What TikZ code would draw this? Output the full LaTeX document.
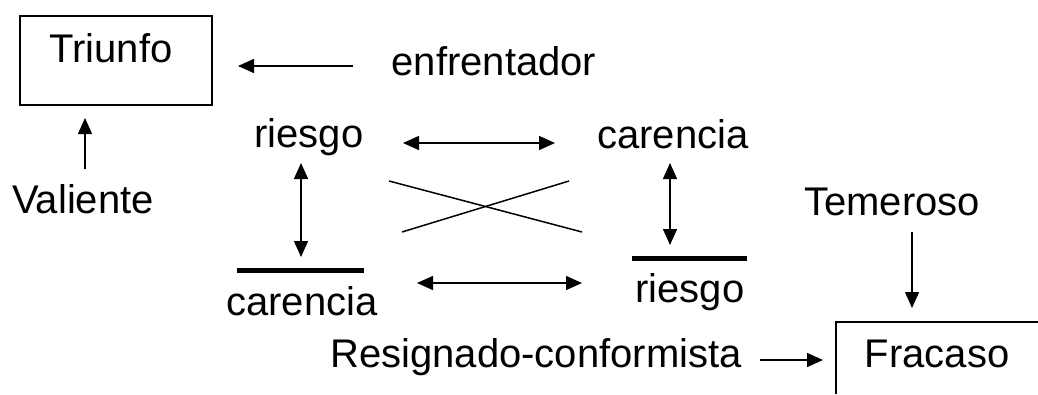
\documentclass[tikz,border=0pt]{standalone}
\usepackage{fontspec}
\setmainfont{Liberation Sans}
\usetikzlibrary{arrows.meta}
\begin{document}
\begin{tikzpicture}[x=1pt,y=-1pt,
  lbl/.style={anchor=base,inner sep=0pt,font=\fontsize{40}{48}\selectfont},
  conn/.style={line width=1.5pt,-{Triangle[length=16pt,width=14pt]}},
  dconn/.style={line width=1.5pt,{Triangle[length=16pt,width=14pt]}-{Triangle[length=16pt,width=14pt]}},
  thin/.style={line width=1.5pt},
  bar/.style={line width=5pt}]
\useasboundingbox (0,0) rectangle (1038,394);
% Triunfo box
\node[draw,line width=1.5pt,minimum width=192pt,minimum height=89pt,inner sep=0pt] (tbox) at (116,60.5) {};
\node[lbl] (triunfo) at (111,62) {Triunfo};
% enfrentador
\node[lbl] (enf) at (494,75) {enfrentador};
\coordinate (e1) at (353,66);
\coordinate (e2) at (238,66);
\draw[conn] (e1) -- (e2);
% Valiente
\node[lbl] (val) at (83,213) {Valiente};
\coordinate (v1) at (85,169);
\coordinate (v2) at (85,118);
\draw[conn] (v1) -- (v2);
% top row
\node[lbl] (r1) at (309,147) {riesgo};
\node[lbl] (c1) at (673,148) {carencia};
\coordinate (a1) at (403,143);
\coordinate (a2) at (555,143);
\draw[dconn] (a1) -- (a2);
% cross
\coordinate (x1) at (389,181);
\coordinate (x2) at (582,232);
\coordinate (x3) at (402,232);
\coordinate (x4) at (569,181);
\draw[thin] (x1) -- (x2);
\draw[thin] (x3) -- (x4);
% left vertical
\coordinate (l1) at (301,163);
\coordinate (l2) at (301,257);
\draw[dconn] (l1) -- (l2);
\coordinate (b1) at (237,270);
\coordinate (b2) at (364,270);
\draw[bar] (b1) -- (b2);
\node[lbl] (c2) at (302,315) {carencia};
% bottom arrow
\coordinate (m1) at (417,283);
\coordinate (m2) at (582,283);
\draw[dconn] (m1) -- (m2);
% right vertical
\coordinate (rv1) at (670,163);
\coordinate (rv2) at (670,245);
\draw[dconn] (rv1) -- (rv2);
\coordinate (rb1) at (632,258);
\coordinate (rb2) at (747,258);
\draw[bar] (rb1) -- (rb2);
\node[lbl] (r2) at (690,302) {riesgo};
% Temeroso
\node[lbl] (tem) at (892,215) {Temeroso};
\coordinate (t1) at (912,232);
\coordinate (t2) at (912,308);
\draw[conn] (t1) -- (t2);
% Fracaso
\coordinate (f0) at (836,394);
\coordinate (f1) at (836,322);
\coordinate (f2) at (1038,322);
\draw[thin] (f0) -- (f1) -- (f2);
\node[lbl] (fra) at (937,367) {Fracaso};
% Resignado
\node[lbl] (res) at (536,367) {Resignado-conformista};
\coordinate (g1) at (760,360);
\coordinate (g2) at (823,360);
\draw[conn] (g1) -- (g2);
\end{tikzpicture}
\end{document}
